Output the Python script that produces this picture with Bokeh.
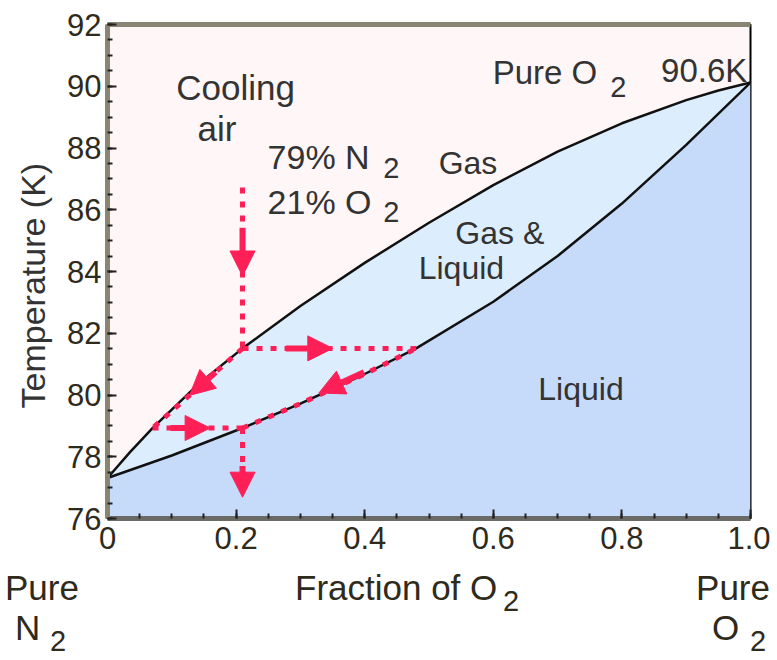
from bokeh.plotting import figure
from bokeh.layouts import column
from bokeh.models import (Label, Arrow, NormalHead, SingleIntervalTicker, Div,
                          CustomJSTickFormatter, Range1d, LinearAxis, FixedTicker)
from bokeh.embed import file_html
from bokeh.resources import INLINE

# ---------------- data ----------------
# boiling (liquid) curve: fraction of O2 vs temperature (K)
liquid_x = [0.0, 0.1, 0.21, 0.3, 0.4, 0.48, 0.6, 0.7, 0.8, 0.9, 1.0]
liquid_T = [77.31, 78.04, 78.93, 79.72, 80.68, 81.51, 83.02, 84.5, 86.2, 88.1, 90.12]
# dew (gas) curve
gas_x = [0.0, 0.035, 0.07, 0.14, 0.21, 0.3, 0.4, 0.5, 0.6, 0.7, 0.8, 0.9, 0.95, 1.0]
gas_T = [77.31, 78.15, 78.93, 80.33, 81.51, 82.88, 84.28, 85.58, 86.8, 87.88, 88.8, 89.55, 89.86, 90.12]

# cooling path of air
air_x = 0.21            # 21 % O2
start_T = 86.72
step1_T = 81.51         # first condensation temperature
step1_liq_x = 0.48      # liquid composition at step 1
step2_T = 78.93
step2_gas_x = 0.07
end_T = 76.69

x_ticks_major = 0.2
y_ticks_major = 2

# ---------------- styling ----------------
RED = "#FF1F57"
FONT = "Liberation Sans"
TXT = "#333333"
TICK_TXT = "#2e2a1c"

W = 770
p = figure(width=W, height=565, x_range=Range1d(0, 1), y_range=Range1d(76, 92),
           output_backend="svg", toolbar_location=None,
           min_border_left=107, min_border_right=20, min_border_top=24, min_border_bottom=47)
p.background_fill_color = "#FFF7F7"
p.border_fill_color = "white"
p.grid.visible = False
p.outline_line_color = "black"
p.outline_line_width = 2

# regions
gl_x = gas_x + liquid_x[::-1]
gl_T = gas_T + liquid_T[::-1]
p.patch(gl_x, gl_T, fill_color="#DCEDFD", line_color=None)
liq_x = liquid_x + [1.0, 0.0]
liq_T = liquid_T + [76.0, 76.0]
p.patch(liq_x, liq_T, fill_color="#C6DAFA", line_color=None)

# curves
p.line(gas_x, gas_T, line_color="#111111", line_width=2.5)
p.line(liquid_x, liquid_T, line_color="#111111", line_width=2.5)

# dotted cooling path
dot = dict(line_color=RED, line_width=5, line_dash="6 8", line_cap="butt")
p.line([air_x, air_x], [start_T, step1_T], **dot)
p.line([air_x, step1_liq_x], [step1_T, step1_T], **dot)
p.line([air_x, step2_gas_x], [step1_T, step2_T], **dot)
seg_x = [x for x in liquid_x if air_x <= x <= step1_liq_x]
seg_T = [t for x, t in zip(liquid_x, liquid_T) if air_x <= x <= step1_liq_x]
p.line(seg_x, seg_T, **dot)
p.line([step2_gas_x, air_x], [step2_T, step2_T], **dot)
p.line([air_x, air_x], [step2_T, end_T], **dot)


def arrow_on(x0, y0, x1, y1, f0, f1):
    xs, ys = x0 + (x1 - x0) * f0, y0 + (y1 - y0) * f0
    xe, ye = x0 + (x1 - x0) * f1, y0 + (y1 - y0) * f1
    p.add_layout(Arrow(end=NormalHead(size=25, fill_color=RED, line_color=RED, line_width=1),
                       x_start=xs, y_start=ys, x_end=xe, y_end=ye,
                       line_color=RED, line_width=6))


arrow_on(air_x, start_T, air_x, step1_T, 0.25, 0.55)
arrow_on(air_x, step1_T, step1_liq_x, step1_T, 0.25, 0.52)
arrow_on(air_x, step1_T, step2_gas_x, step2_T, 0.3, 0.59)
arrow_on(step1_liq_x, step1_T, air_x, step2_T, 0.3, 0.56)
arrow_on(step2_gas_x, step2_T, air_x, step2_T, 0.2, 0.64)
arrow_on(air_x, step2_T, air_x, end_T, 0.55, 1.0)

# axes
for ax in (p.xaxis[0], p.yaxis[0]):
    ax.major_tick_in = 9
    ax.major_tick_out = 0
    ax.minor_tick_in = 5
    ax.minor_tick_out = 0
    ax.major_tick_line_color = "#222222"
    ax.minor_tick_line_color = "#222222"
    ax.major_tick_line_width = 2
    ax.minor_tick_line_width = 2
    ax.major_label_text_font = FONT
    ax.major_label_text_font_size = "31px"
    ax.major_label_text_color = TICK_TXT
    ax.axis_line_width = 5

p.xaxis.ticker = SingleIntervalTicker(interval=x_ticks_major, num_minor_ticks=4)
p.yaxis.ticker = SingleIntervalTicker(interval=y_ticks_major, num_minor_ticks=4)
p.xaxis.formatter = CustomJSTickFormatter(code="return tick == 0 ? '0' : tick.toFixed(1);")
p.xaxis.axis_line_color = "#6a6a66"
p.yaxis.axis_line_color = "#8a8474"
p.xaxis.major_label_standoff = 8
p.yaxis.major_label_standoff = 6

p.yaxis.axis_label = "Temperature (K)" + "\u00a0" * 3
p.yaxis.axis_label_text_font = FONT
p.yaxis.axis_label_text_font_size = "34px"
p.yaxis.axis_label_text_font_style = "normal"
p.yaxis.axis_label_text_color = TXT
p.yaxis.axis_label_standoff = 12

top = LinearAxis(ticker=FixedTicker(ticks=[]), major_label_text_font_size="0px",
                 major_tick_in=0, major_tick_out=0, minor_tick_in=0, minor_tick_out=0,
                 axis_line_width=5, axis_line_color="#8a8474")
p.add_layout(top, "above")


def lab(fig, x, y, text, size="33px", align="left", color=TXT):
    fig.add_layout(Label(x=x, y=y, text=text, text_font=FONT, text_font_size=size,
                         text_color=color, text_align=align, text_baseline="alphabetic"))


SUB = "29px"
lab(p, 0.107, 89.96, "Cooling", "35px")
lab(p, 0.14, 88.63, "air", "35px")
lab(p, 0.249, 87.70, "79% N", "34px")
lab(p, 0.429, 87.34, "2", SUB)
lab(p, 0.249, 86.24, "21% O", "34px")
lab(p, 0.429, 85.92, "2", SUB)
lab(p, 0.515, 87.50, "Gas", "32px")
lab(p, 0.541, 85.24, "Gas &", "32px")
lab(p, 0.484, 84.10, "Liquid", "32px")
lab(p, 0.670, 80.19, "Liquid", "32px")
lab(p, 0.599, 90.45, "Pure O", "33px")
lab(p, 0.782, 89.96, "2", SUB)
lab(p, 0.995, 90.51, "90.6K", "33px", align="right")

# ---- lower strip: axis title and end-member labels as real HTML text ----
def span(text, size, left=None, right=None, top=0):
    pos = f"left:{left}px;" if left is not None else f"right:{right}px;"
    return (f'<span style="position:absolute;{pos}top:{top}px;font-size:{size}px;'
            f'line-height:1;white-space:nowrap;">{text}</span>')


strip = "".join([
    span("Pure", 35, left=5, top=5),
    span("N", 35, left=15, top=45),
    span("2", 29, left=50, top=62),
    span("Fraction of O", 35, left=295, top=5),
    span("2", 29, left=503, top=22),
    span("Pure", 35, right=0, top=5),
    span("O", 35, left=712, top=45),
    span("2", 29, left=750, top=62),
])
html = (f'<div style="position:relative;width:{W}px;height:93px;margin:0;padding:0;'
        f"font-family:'{FONT}';color:{TICK_TXT};\">{strip}</div>")
div = Div(text=html, width=W, height=93, styles={"margin": "0", "padding": "0"})

layout = column(p, div, spacing=0)
open("out.html", "w").write(file_html(layout, INLINE))
